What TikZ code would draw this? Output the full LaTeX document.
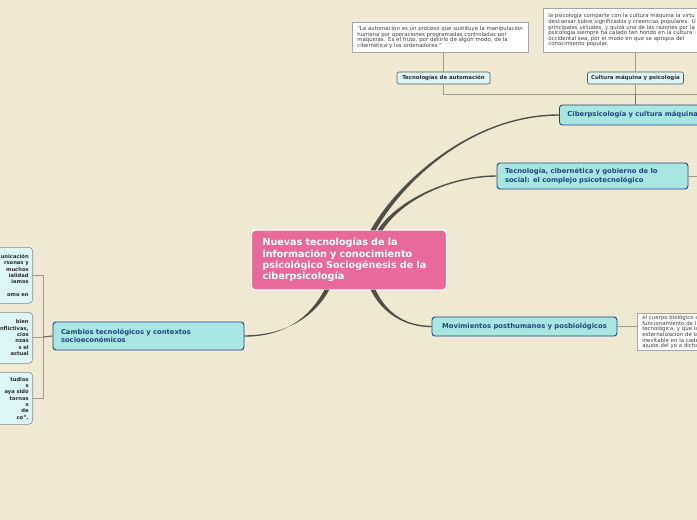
\documentclass[tikz,border=0pt]{standalone}
\usepackage{fontspec}
\setmainfont{DejaVu Sans}
\usetikzlibrary{arrows.meta,positioning,calc}
\definecolor{paper}{HTML}{EFE8D3}
\definecolor{rose}{HTML}{E8699A}
\definecolor{aqua}{HTML}{A8E6E1}
\definecolor{navy}{HTML}{22467F}
\definecolor{ice}{HTML}{DDF6F5}
\definecolor{wire}{HTML}{A39D8B}
\definecolor{trunk}{HTML}{505048}
\definecolor{ink}{HTML}{2B2B2B}

\begin{document}
\begin{tikzpicture}[
  x=1pt, y=-1pt,
  root/.style={draw=white, line width=1.2pt, fill=rose, rounded corners=4pt, text=white, align=left, font=\bfseries\fontsize{9.6}{11.4}\selectfont, text width=173pt, inner xsep=11pt, minimum height=60pt},
  topic/.style={draw=navy, line width=0.9pt, fill=aqua, rounded corners=3pt, text=navy, align=left, font=\bfseries\fontsize{6.8}{8.6}\selectfont, inner xsep=8pt},
  sub/.style={draw=black!65, line width=0.6pt, fill=ice, rounded corners=2pt, text=ink, font=\bfseries\fontsize{5.4}{6}\selectfont, inner sep=0pt, minimum height=12pt},
  note/.style={draw=black!35, line width=0.6pt, fill=white, text=black!75, align=left, font=\fontsize{5.4}{5.6}\selectfont, inner xsep=5pt, anchor=north west},
  side/.style={draw=black!45, line width=0.6pt, fill=ice, rounded corners=4pt, text=ink, align=right, font=\bfseries\fontsize{5.2}{6.3}\selectfont, anchor=north east, inner xsep=4pt, text width=100pt},
  link/.style={draw=wire, line width=0.8pt},
  branch/.style={fill=trunk},
]
\useasboundingbox (0,0) rectangle (697,520);
\fill[paper] (0,0) rectangle (697,520);
\clip (0,0) rectangle (697,520);

% central topic
\node[root] (root) at (349,260) {Nuevas tecnologías de la\\información y conocimiento\\psicológico Sociogénesis de la\\ciberpsicología};

% main topics
\node[topic, anchor=west, minimum height=20pt, text width=200pt] (ciber) at (559,115) {Ciberpsicología y cultura máquina};
\node[topic, text width=175pt, minimum height=26pt] (tec) at (592.5,176) {Tecnología, cibernética y gobierno de lo\\social: el complejo psicotecnológico};
\node[topic, minimum width=185pt, minimum height=19pt] (mov) at (524.5,326.5) {Movimientos posthumanos y posbiológicos};
\node[topic, text width=175pt, minimum height=28pt] (cambios) at (148.5,336) {Cambios tecnológicos y contextos\\socioeconómicos};

% subtopics
\node[sub, minimum width=93pt] (auto) at (443.5,78) {Tecnologías de automación};
\node[sub, minimum width=96pt] (cult) at (635.5,78) {Cultura máquina y psicología};

% notes
\node[note, text width=166pt, minimum height=30pt] (note1) at (352,22) {“La automación es un proceso que sustituye la manipulación\\humana por operaciones programadas controladas por\\máquinas. Es el fruto, por decirlo de algún modo, de la\\cibernética y los ordenadores.”};
\node[note, text width=200pt, minimum height=44pt] (note2) at (543,8) {la psicología comparte con la cultura máquina la virtu\\descansar sobre significados y creencias populares. U\\principales virtudes, y quizá una de las razones por la\\psicología siempre ha calado tan hondo en la cultura\\occidental sea, por el modo en que se apropia del\\conocimiento popular.};
\node[note, text width=100pt, minimum height=36pt, inner ysep=2pt] (note3) at (637,313) {el cuerpo biológico a\\funcionamiento de l\\tecnológica, y que la\\externalización de la\\inevitable en la cade\\ajuste del yo a dicha};

% side notes (left)
\node[side, minimum height=56pt] (lb1) at (33,247) {unicación\\rsonas y\\muchos\\ialidad\\iamos\\[6.3pt]omo en};
\node[side, minimum height=51pt] (lb2) at (33,312) {bien\\nflictivas,\\cios\\nzas\\s el\\actual};
\node[side, minimum height=52pt] (lb3) at (33,372) {tudios\\s\\aya sido\\tornos\\s\\de\\co”.};

\coordinate (brk) at (43,337);
\coordinate (edgeA) at (705,94);
\coordinate (edgeB) at (705,176);
\coordinate (s1) at ([xshift=24pt]root.north);
\coordinate (s2) at ([xshift=31pt]root.north);
\coordinate (s3) at ([xshift=24pt]root.south);
\coordinate (s4) at ([xshift=-22pt]root.south);

% branches (tapered)
\fill[branch] ($(s1)+(-2.6,1)$) .. controls +(25,-45) and +(-90,0) .. ($(ciber.west)+(0,-0.7)$)
  -- ($(ciber.west)+(0,0.7)$) .. controls +(-90,0) and +(25,-45) .. ($(s1)+(2.6,1)$) -- cycle;
\fill[branch] ($(s2)+(-2.6,1)$) .. controls +(19,-30) and +(-47,0) .. ($(tec.west)+(0,-0.7)$)
  -- ($(tec.west)+(0,0.7)$) .. controls +(-47,0) and +(19,-30) .. ($(s2)+(2.6,1)$) -- cycle;
\fill[branch] ($(s3)+(-2.4,-1)$) .. controls +(12,25) and +(-25,0) .. ($(mov.west)+(0,0.7)$)
  -- ($(mov.west)+(0,-0.7)$) .. controls +(-25,0) and +(12,25) .. ($(s3)+(2.4,-1)$) -- cycle;
\fill[branch] ($(s4)+(-2.4,-1)$) .. controls +(-15,28) and +(40,0) .. ($(cambios.east)+(0,0.7)$)
  -- ($(cambios.east)+(0,-0.7)$) .. controls +(40,0) and +(-15,28) .. ($(s4)+(2.4,-1)$) -- cycle;

% connectors
\draw[link] (auto.south) |- (edgeA);
\draw[link] (cult.south) -- (cult.south |- ciber.north);
\draw[link, draw=trunk!80, line width=1.2pt] (cult.south |- edgeA) -- (cult.south |- ciber.north);
\draw[link] (tec.east) -- (edgeB);
\draw[link] (note1.south -| auto.north) -- (auto.north);
\draw[link] (note2.south -| cult.north) -- (cult.north);
\draw[link] (mov.east) -- (mov.east -| note3.west);
\draw[link] (lb1.east) -- (lb1.east -| brk) -- (lb3.east -| brk) -- (lb3.east);
\draw[link] (lb2.east) -- (lb2.east -| brk);
\draw[link, draw=trunk!80, line width=1.2pt] (brk) -- (cambios.west);

\end{tikzpicture}
\end{document}
